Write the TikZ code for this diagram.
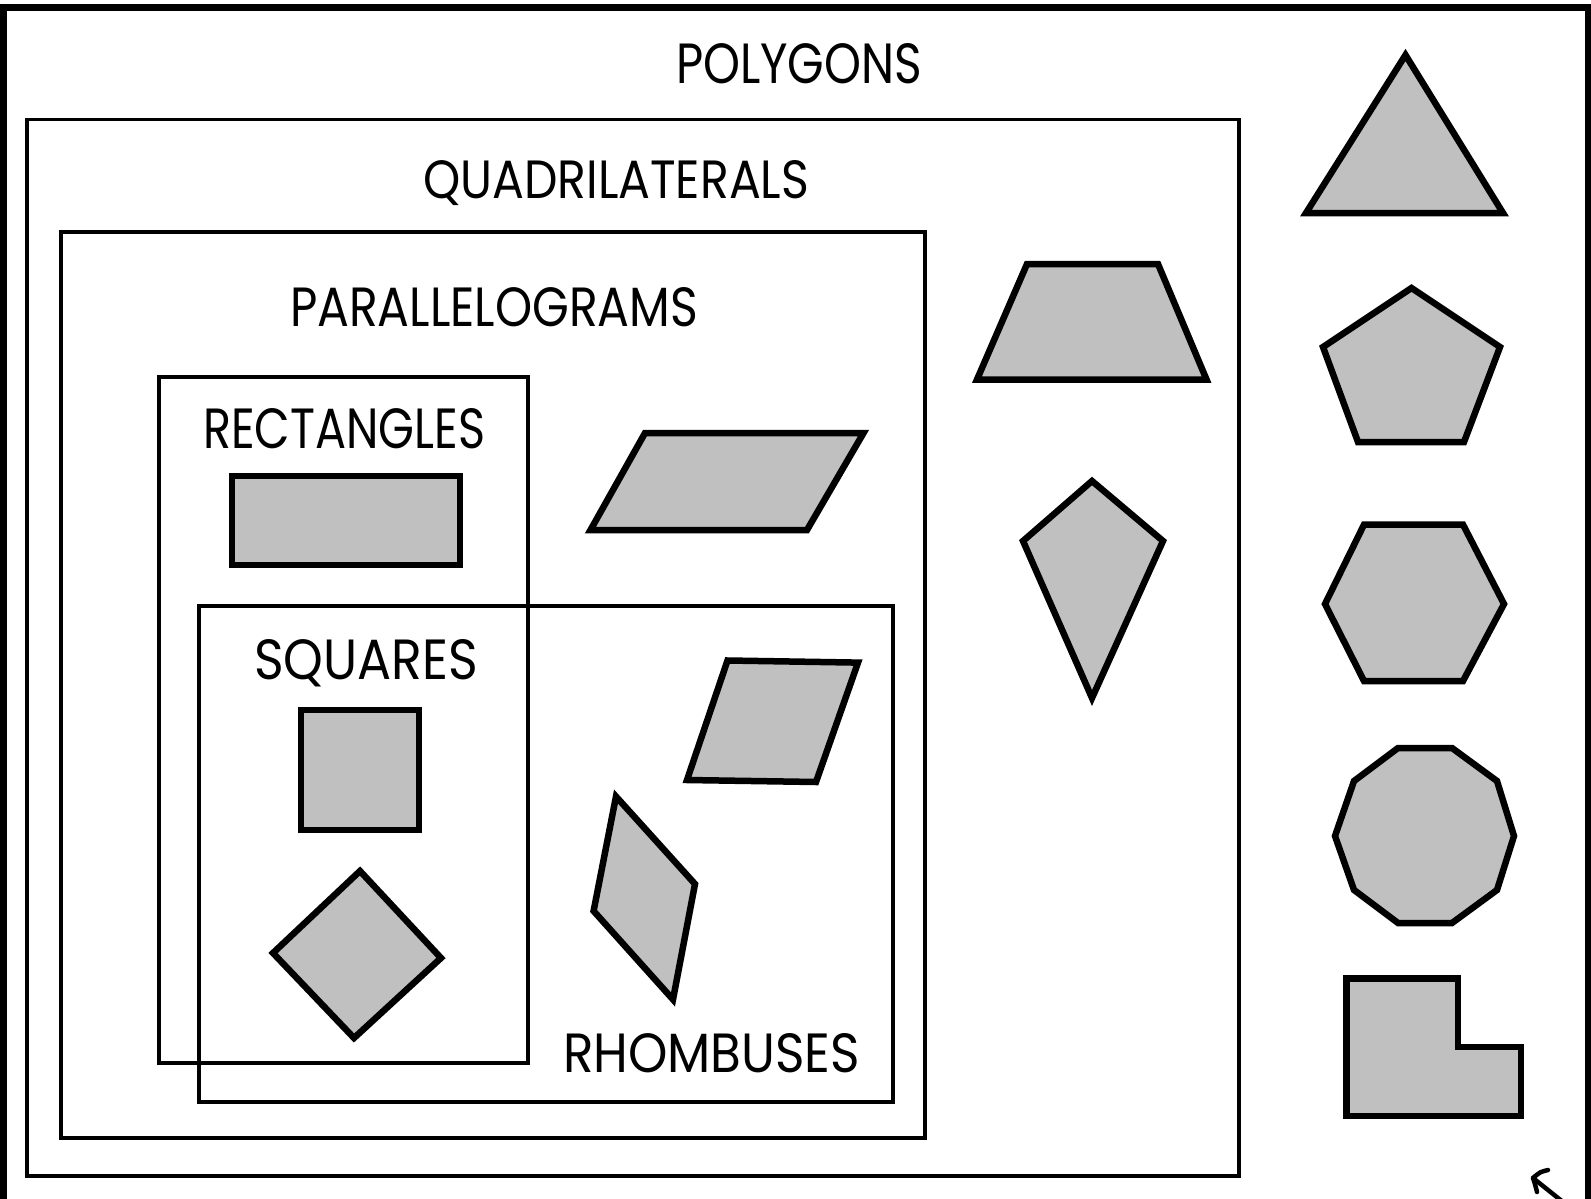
\documentclass[tikz,border=0pt]{standalone}
\usepackage{fontspec}
\setmainfont{Poppins}
\definecolor{shapegray}{RGB}{192,192,192}
\newcommand{\lbltxt}[3]{\resizebox{#1pt}{#2pt}{#3}}
\begin{document}
\begin{tikzpicture}[x=1pt,y=-1pt,
  setbox/.style={draw=black,line width=3.6pt},
  frame/.style={draw=black,line width=7pt},
  poly/.style={draw=black,fill=shapegray,line width=6.5pt,line join=miter},
  lab/.style={inner sep=0pt,outer sep=0pt,anchor=base west}]
\useasboundingbox (0,0) rectangle (1591,1199);
\clip (0,0) rectangle (1591,1199);
\fill[white] (0,0) rectangle (1591,1199);
% frames
\draw[frame] (3,7.5) rectangle (1588,1202);
\draw[setbox] (27,119.5) rectangle (1239,1176);
\draw[setbox] (61,232) rectangle (925,1138);
\draw[setbox] (159,377) rectangle (528,1063);
\draw[setbox] (199,606) rectangle (893,1102);
% labels
\node[lab] (polygons) at (676,84) {\lbltxt{246}{40}{POLYGONS}};
\node[lab] (quads) at (423,198) {\lbltxt{386}{38}{QUADRILATERALS}};
\node[lab] (paras) at (290,326) {\lbltxt{408}{39}{PARALLELOGRAMS}};
\node[lab] (rects) at (203,448) {\lbltxt{282}{40}{RECTANGLES}};
\node[lab] (squares) at (254,679) {\lbltxt{224}{40}{SQUARES}};
\node[lab] (rhombs) at (563,1072) {\lbltxt{297}{39}{RHOMBUSES}};
% shapes inside
\draw[poly] (232,476) rectangle (460,565);
\draw[poly] (645,433) -- (863.5,433) -- (807,530) -- (590.5,530) -- cycle;
\draw[poly] (301,710) rectangle (419,830);
\draw[poly] (360,871) -- (441,958) -- (354,1038) -- (273,953) -- cycle;
\draw[poly] (727.5,660.5) -- (858,662.6) -- (816,782) -- (687,780) -- cycle;
\draw[poly] (616,796.5) -- (695,884) -- (673,999.5) -- (593.6,911) -- cycle;
% quadrilaterals outside parallelograms
\draw[poly] (1027,264) -- (1158,264) -- (1206.5,379.5) -- (977,379.5) -- cycle;
\draw[poly] (1092,481) -- (1163,541) -- (1092,698) -- (1023,541) -- cycle;
% other polygons
\draw[poly] (1405.5,55) -- (1503,213) -- (1306,213) -- cycle;
\draw[poly] (1411.5,288) -- (1500,347) -- (1464,442) -- (1358,442) -- (1323,347) -- cycle;
\draw[poly] (1364,524.6) -- (1463,524.6) -- (1504,604) -- (1463,681) -- (1364,681) -- (1325,604) -- cycle;
\draw[poly] (1398,748) -- (1452,748) -- (1497,781) -- (1514,836) -- (1497,890) -- (1452,923) -- (1398,923) -- (1354,890) -- (1335,836) -- (1354,781) -- cycle;
\draw[poly] (1346.5,978.5) -- (1458,978.5) -- (1458,1047) -- (1521,1047) -- (1521,1116) -- (1346.5,1116) -- cycle;
% cursor
\coordinate (tip) at (1533,1178);
\draw[line width=4.5pt,line cap=round,line join=round] (1548,1170) .. controls (1540,1172) .. (tip) .. controls (1535,1184) .. (1537,1192);
\draw[line width=4.5pt,line cap=round] (tip) -- (1563,1202);
\end{tikzpicture}
\end{document}
